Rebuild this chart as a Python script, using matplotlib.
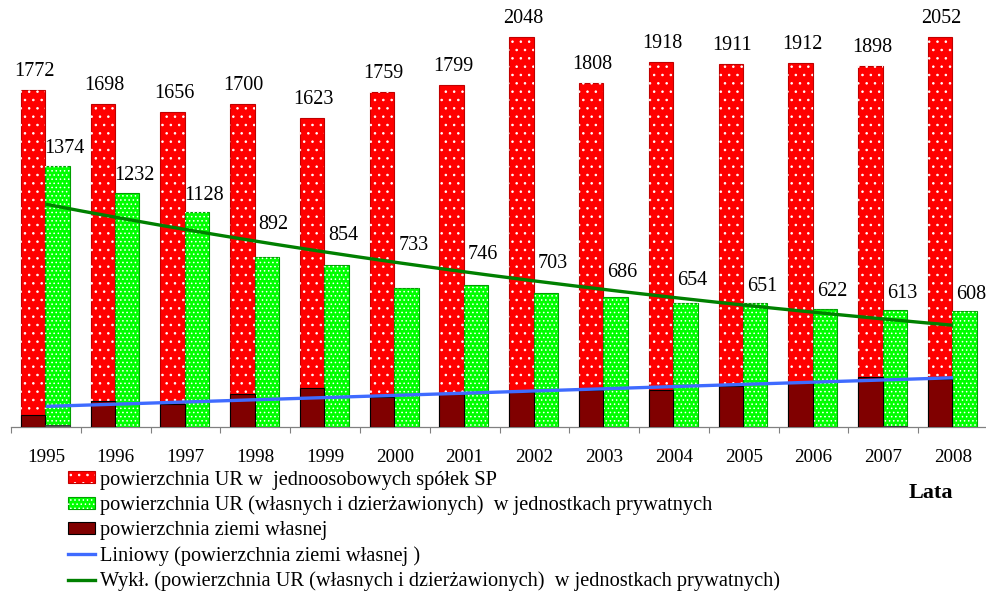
import numpy as np
import matplotlib
matplotlib.use('Agg')
import matplotlib.pyplot as plt
from matplotlib.patches import Patch
from matplotlib.lines import Line2D
from matplotlib.legend_handler import HandlerTuple

years = ['1995', '1996', '1997', '1998', '1999', '2000', '2001',
         '2002', '2003', '2004', '2005', '2006', '2007', '2008']
sp_area = [1772, 1698, 1656, 1700, 1623, 1759, 1799, 2048, 1808, 1918, 1911, 1912, 1898, 2052]
private_area = [1374, 1232, 1128, 892, 854, 733, 746, 703, 686, 654, 651, 622, 613, 608]
own_land = [63, 135, 123, 172, 204, 160, 172, 184, 196, 195, 217, 235, 262, 253]
minor_series = [12, 0, 0, 0, 0, 0, 0, 0, 0, 0, 0, 0, 6, 0]

legend_labels = [
    'powierzchnia UR w  jednoosobowych spółek SP',
    'powierzchnia UR (własnych i dzierżawionych)  w jednostkach prywatnych',
    'powierzchnia ziemi własnej',
    'Liniowy (powierzchnia ziemi własnej )',
    'Wykł. (powierzchnia UR (własnych i dzierżawionych)  w jednostkach prywatnych)',
]

plt.rcParams['font.family'] = ['Liberation Serif', 'DejaVu Serif']
plt.rcParams['hatch.linewidth'] = 0.6

RED, RED_EDGE = '#FF0000', '#C00000'
GREEN, GREEN_EDGE = '#00FF00', '#00A000'
DARK = '#800000'
BLUE_LINE = '#3F6BFF'
GREEN_LINE = '#008000'

fig = plt.figure(figsize=(9.86, 5.92), dpi=100)
YMAX = 2200
ax = fig.add_axes([11 / 986, 165 / 592, 977 / 986, YMAX * 0.1902 / 592])
ax.set_facecolor('none')

n = len(years)
x = np.arange(n)
w = 0.35
xr = x - 0.185
xg = x + 0.165

ax.bar(xr, sp_area, w, color=RED, edgecolor=RED_EDGE, lw=0.8, zorder=2)
ax.bar(xr, sp_area, w, fill=False, hatch='..', edgecolor='white', lw=0, zorder=2.1)
ax.bar(xr, own_land, w, color=DARK, edgecolor='black', lw=0.8, zorder=3)
ax.bar(xg, private_area, w, color=GREEN, edgecolor=GREEN_EDGE, lw=0.8, zorder=2)
ax.bar(xg, private_area, w, fill=False, hatch='....', edgecolor='white', lw=0, zorder=2.1)
ax.bar(xg, minor_series, w, color='#4d5d4d', edgecolor='#333333', lw=0.6, zorder=3)

# trend lines
xs = np.linspace(0, n - 1, 300)
a, b = np.polyfit(x, own_land, 1)
ax.plot(xs, a * xs + b, color=BLUE_LINE, lw=2.4, zorder=5, solid_capstyle='butt')
c, d = np.polyfit(x, np.log(private_area), 1)
ax.plot(xs, np.exp(d + c * xs), color=GREEN_LINE, lw=2.4, zorder=5, solid_capstyle='butt')
exp_at = np.exp(d + c * x)

for i in range(n):
    ax.annotate(str(sp_area[i]), (xr[i], sp_area[i]), xytext=(1, 13.3),
                textcoords='offset points', ha='center', va='center', fontsize=14.5, zorder=6)
    top = max(private_area[i], exp_at[i])
    ax.annotate(str(private_area[i]), (xg[i], top), xytext=(5, 12.2),
                textcoords='offset points', ha='center', va='center', fontsize=14.5, zorder=6)

ax.set_xlim(-0.5, n - 0.5)
ax.set_ylim(0, YMAX)
ax.set_xticks(np.arange(-0.5, n, 1))
ax.set_xticklabels([])
ax.set_xticks(x, minor=True)
ax.set_xticklabels(years, minor=True, fontsize=13.8)
ax.tick_params(axis='x', which='major', length=4.5, width=0.8, color='#808080', direction='out')
ax.tick_params(axis='x', which='minor', length=0, pad=15.5)
ax.set_yticks([])
for s in ['left', 'right', 'top']:
    ax.spines[s].set_visible(False)
ax.spines['bottom'].set_color('#808080')
ax.spines['bottom'].set_linewidth(0.9)

handles = [
    (Patch(facecolor=RED, edgecolor=RED_EDGE, lw=0.8),
     Patch(fill=False, hatch='..', edgecolor='white', lw=0)),
    (Patch(facecolor=GREEN, edgecolor=GREEN_EDGE, lw=0.8),
     Patch(fill=False, hatch='....', edgecolor='white', lw=0)),
    Patch(facecolor=DARK, edgecolor='black', lw=0.8),
    Line2D([], [], color=BLUE_LINE, lw=2.4),
    Line2D([], [], color=GREEN_LINE, lw=2.4),
]
fig.legend(handles, legend_labels, handler_map={tuple: HandlerTuple(ndivide=1, pad=0)},
           loc='upper left', bbox_to_anchor=(68 / 986, 1 - 470.5 / 592), frameon=False,
           fontsize=14.7, handlelength=1.33, handleheight=0.54, handletextpad=0.25,
           labelspacing=0.29, borderaxespad=0, borderpad=0)

fig.text(931 / 986, 1 - 493 / 592, 'Lata', ha='center', va='center',
         fontsize=16, fontweight='bold')

fig.savefig('out.png', dpi=100)
